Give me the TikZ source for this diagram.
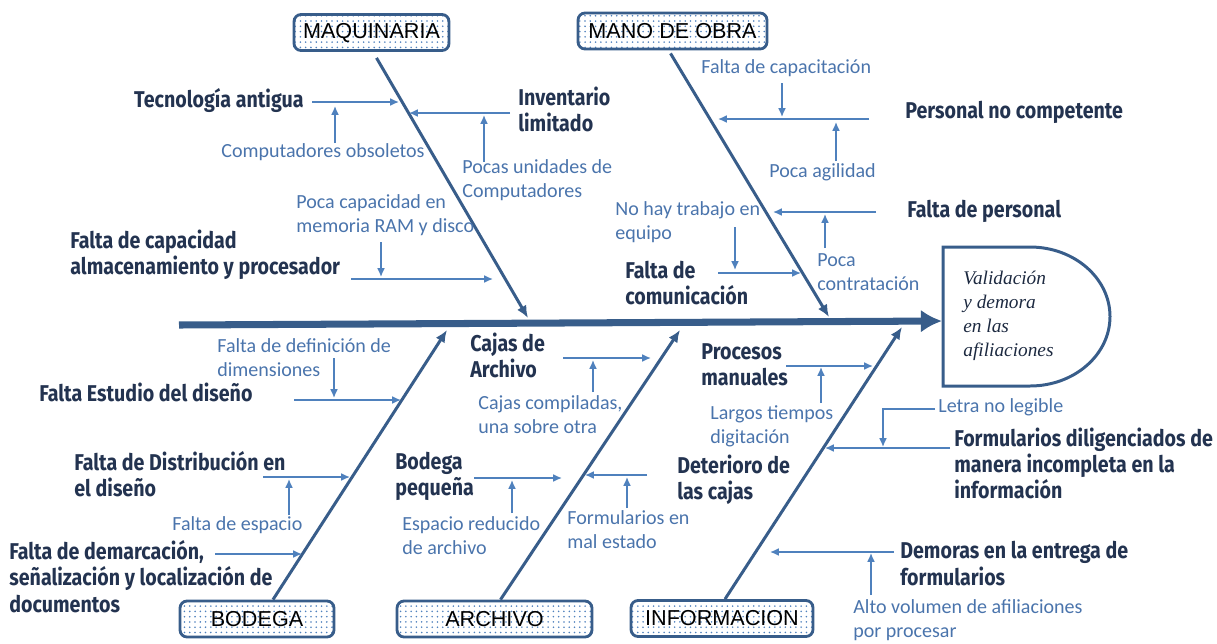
\documentclass[tikz,border=0pt]{standalone}
\usepackage{fontspec}
\setmainfont{Carlito}
\newfontfamily\causefont[FakeStretch=0.86]{Fira Sans}
\newfontfamily\catfont{Liberation Sans}
\newfontfamily\efffont{Liberation Serif}
\usetikzlibrary{calc,arrows.meta,patterns}
\definecolor{bonecol}{HTML}{385D8A}
\definecolor{subcol}{HTML}{4F81BD}
\definecolor{notecol}{HTML}{4A74AC}
\definecolor{causecol}{HTML}{233350}

\tikzset{
  catbox/.style={draw=bonecol, line width=1.6pt, rounded corners=4pt, pattern=dots, pattern color=subcol,
    preaction={fill=white}, minimum height=0.72cm, inner sep=0pt, font=\catfont\fontsize{12.3}{14}\selectfont},
  cause/.style={inner sep=0pt, align=left, text=causecol, font=\causefont\bfseries\fontsize{13}{15}\selectfont},
  note/.style={inner sep=0pt, align=left, text=notecol, font=\fontsize{11.4}{13.6}\selectfont},
  bone/.style={draw=bonecol, line width=1.7pt, -{Latex[length=7pt,width=6pt]}},
  spine/.style={draw=bonecol, line width=4pt, -{Latex[length=12pt,width=13pt]}},
  sub/.style={draw=subcol, line width=0.9pt, -{Latex[length=5pt,width=4.5pt]}},
}

\begin{document}
\begin{tikzpicture}[x=0.02cm,y=-0.02cm]
  \useasboundingbox (0,0) rectangle (1217,643);

  % categories
  \node[catbox, minimum width=3.1cm] (maq) at (371.5,32.5) {MAQUINARIA};
  \node[catbox, minimum width=3.78cm] (mano) at (672.5,31) {MANO DE OBRA};
  \node[catbox, minimum width=3.08cm] (bod) at (257,619) {BODEGA};
  \node[catbox, minimum width=3.9cm] (arc) at (494.5,619) {ARCHIVO};
  \node[catbox, minimum width=3.64cm] (inf) at (722,618.5) {INFORMACION};

  % effect
  \coordinate (tail) at (179,325);
  \coordinate (head) at (942,321);
  \draw[bonecol, line width=1.7pt] (943,247) -- (1030,247)
    arc[start angle=-90, end angle=90, x radius=80, y radius=69.5] -- (943,386) -- cycle;
  \node[inner sep=0pt, align=left, text=causecol!80!black, anchor=west,
    font=\efffont\itshape\fontsize{11}{13.6}\selectfont] (eff) at (963,316)
    {Validación\\y demora\\en las\\afiliaciones};
  \draw[spine] (tail) -- (head);

  % bones
  \coordinate (maqe) at (528,318);
  \coordinate (manoe) at (829,317);
  \coordinate (bode) at (447,330);
  \coordinate (arce) at (680,330);
  \coordinate (infe) at (902,327);
  \draw[bone] ($(maq.south)+(5,6)$) -- (maqe);
  \draw[bone] ($(mano.south)+(-2,3)$) -- (manoe);
  \draw[bone] ($(bod.north)+(16,0)$) -- (bode);
  \draw[bone] ($(arc.north)+(6,0)$) -- (arce);
  \draw[bone] ($(inf.north)+(3,0)$) -- (infe);

  % MAQUINARIA
  \node[cause, anchor=east] (tec) at (304,100) {Tecnología antigua};
  \node[cause, anchor=west] (inv) at (518,109.5) {Inventario\\limitado};
  \node[cause, anchor=west] (fcap) at (70,254.5) {Falta de capacidad\\almacenamiento y procesador};
  \node[note, anchor=west] (obs) at (221,152) {Computadores obsoletos};
  \node[note, anchor=west] (puc) at (462,180.5) {Pocas unidades de\\Computadores};
  \node[note, anchor=west] (pram) at (296,215.5) {Poca capacidad en\\memoria RAM y disco};
  \coordinate (m1a) at (312,102); \coordinate (m1b) at (399,102);
  \coordinate (m2a) at (335,143); \coordinate (m2b) at (335,106);
  \coordinate (m3a) at (510,113); \coordinate (m3b) at (409,113);
  \coordinate (m4a) at (484,162); \coordinate (m4b) at (484,115);
  \coordinate (m5a) at (381,242); \coordinate (m5b) at (381,277);
  \coordinate (m6a) at (351,279); \coordinate (m6b) at (493,279);

  % MANO DE OBRA
  \node[cause, anchor=west] (pnc) at (905,112) {Personal no competente};
  \node[cause, anchor=west] (fper) at (907,211) {Falta de personal};
  \node[cause, anchor=west] (fcom) at (625,283) {Falta de\\comunicación};
  \node[note, anchor=west] (fcapa) at (701,68) {Falta de capacitación};
  \node[note, anchor=west] (pag) at (769,172) {Poca agilidad};
  \node[note, anchor=west] (pcon) at (817,272) {Poca\\contratación};
  \node[note, anchor=west] (nht) at (615,222) {No hay trabajo en\\equipo};
  \coordinate (o1a) at (782,83); \coordinate (o1b) at (782,117);
  \coordinate (o2a) at (869,119); \coordinate (o2b) at (718,119);
  \coordinate (o3a) at (836,161); \coordinate (o3b) at (836,122);
  \coordinate (o4a) at (876,212); \coordinate (o4b) at (773,212);
  \coordinate (o5a) at (825,248); \coordinate (o5b) at (825,214);
  \coordinate (o6a) at (735,227); \coordinate (o6b) at (735,270);
  \coordinate (o7a) at (718,273); \coordinate (o7b) at (801,273);

  % BODEGA
  \node[cause, anchor=west] (fed) at (39,392) {Falta Estudio del diseño};
  \node[cause, anchor=west] (fdis) at (74,474) {Falta de Distribución en\\el diseño};
  \node[cause, anchor=west] (fdem) at (9,576.5) {Falta de demarcación,\\señalización y localización de\\documentos};
  \node[note, anchor=west] (fdd) at (217,358) {Falta de definición de\\dimensiones};
  \node[note, anchor=west] (fesp) at (172,525) {Falta de espacio};
  \coordinate (b1a) at (334,358); \coordinate (b1b) at (334,398);
  \coordinate (b2a) at (294,400); \coordinate (b2b) at (401,400);
  \coordinate (b3a) at (263,477); \coordinate (b3b) at (350,477);
  \coordinate (b4a) at (289,515); \coordinate (b4b) at (289,479);
  \coordinate (b5a) at (215,554); \coordinate (b5b) at (302,554);

  % ARCHIVO
  \node[cause, anchor=west] (caj) at (470,355.5) {Cajas de\\Archivo};
  \node[cause, anchor=west] (bpq) at (395,476.5) {Bodega\\pequeña};
  \node[cause, anchor=west] (det) at (677,480) {Deterioro de\\las cajas};
  \node[note, anchor=west] (ccomp) at (478,415) {Cajas compiladas,\\una sobre otra};
  \node[note, anchor=west] (esp) at (402,535.5) {Espacio reducido\\de archivo};
  \node[note, anchor=west] (fmal) at (567,530) {Formularios en\\mal estado};
  \coordinate (a1a) at (563,358); \coordinate (a1b) at (651,358);
  \coordinate (a2a) at (593,392); \coordinate (a2b) at (593,360);
  \coordinate (a3a) at (474,478); \coordinate (a3b) at (562,478);
  \coordinate (a4a) at (512,513); \coordinate (a4b) at (512,480);
  \coordinate (a5a) at (647,475); \coordinate (a5b) at (585,475);
  \coordinate (a6a) at (627,508); \coordinate (a6b) at (627,477);

  % INFORMACION
  \node[cause, anchor=west] (pman) at (701,364.5) {Procesos\\manuales};
  \node[cause, anchor=west] (fdil) at (954,463.5) {Formularios diligenciados de\\manera incompleta en la\\información};
  \node[cause, anchor=west] (dem) at (900,563.5) {Demoras en la entrega de\\formularios};
  \node[note, anchor=west] (ltd) at (710,426.5) {Largos tiempos\\digitación};
  \node[note, anchor=west] (lnl) at (938,407) {Letra no legible};
  \node[note, anchor=west] (alto) at (853,620) {Alto volumen de afiliaciones\\por procesar};
  \coordinate (i1a) at (786,366); \coordinate (i1b) at (873,366);
  \coordinate (i2a) at (821,403); \coordinate (i2b) at (821,367);
  \coordinate (i3a) at (935,409); \coordinate (i3c) at (883,409); \coordinate (i3b) at (883,447);
  \coordinate (i4a) at (950,448); \coordinate (i4b) at (825,448);
  \coordinate (i5a) at (894,552); \coordinate (i5b) at (770,552);
  \coordinate (i6a) at (871,595); \coordinate (i6b) at (871,553);

  \foreach \x in {m1,m2,m3,m4,m5,m6,o1,o2,o3,o4,o5,o6,o7,b1,b2,b3,b4,b5,a1,a2,a3,a4,a5,a6,i1,i2,i4,i5,i6}{
    \draw[sub] (\x a) -- (\x b);}
  \draw[sub] (i3a) -- (i3c) -- (i3b);
\end{tikzpicture}
\end{document}
